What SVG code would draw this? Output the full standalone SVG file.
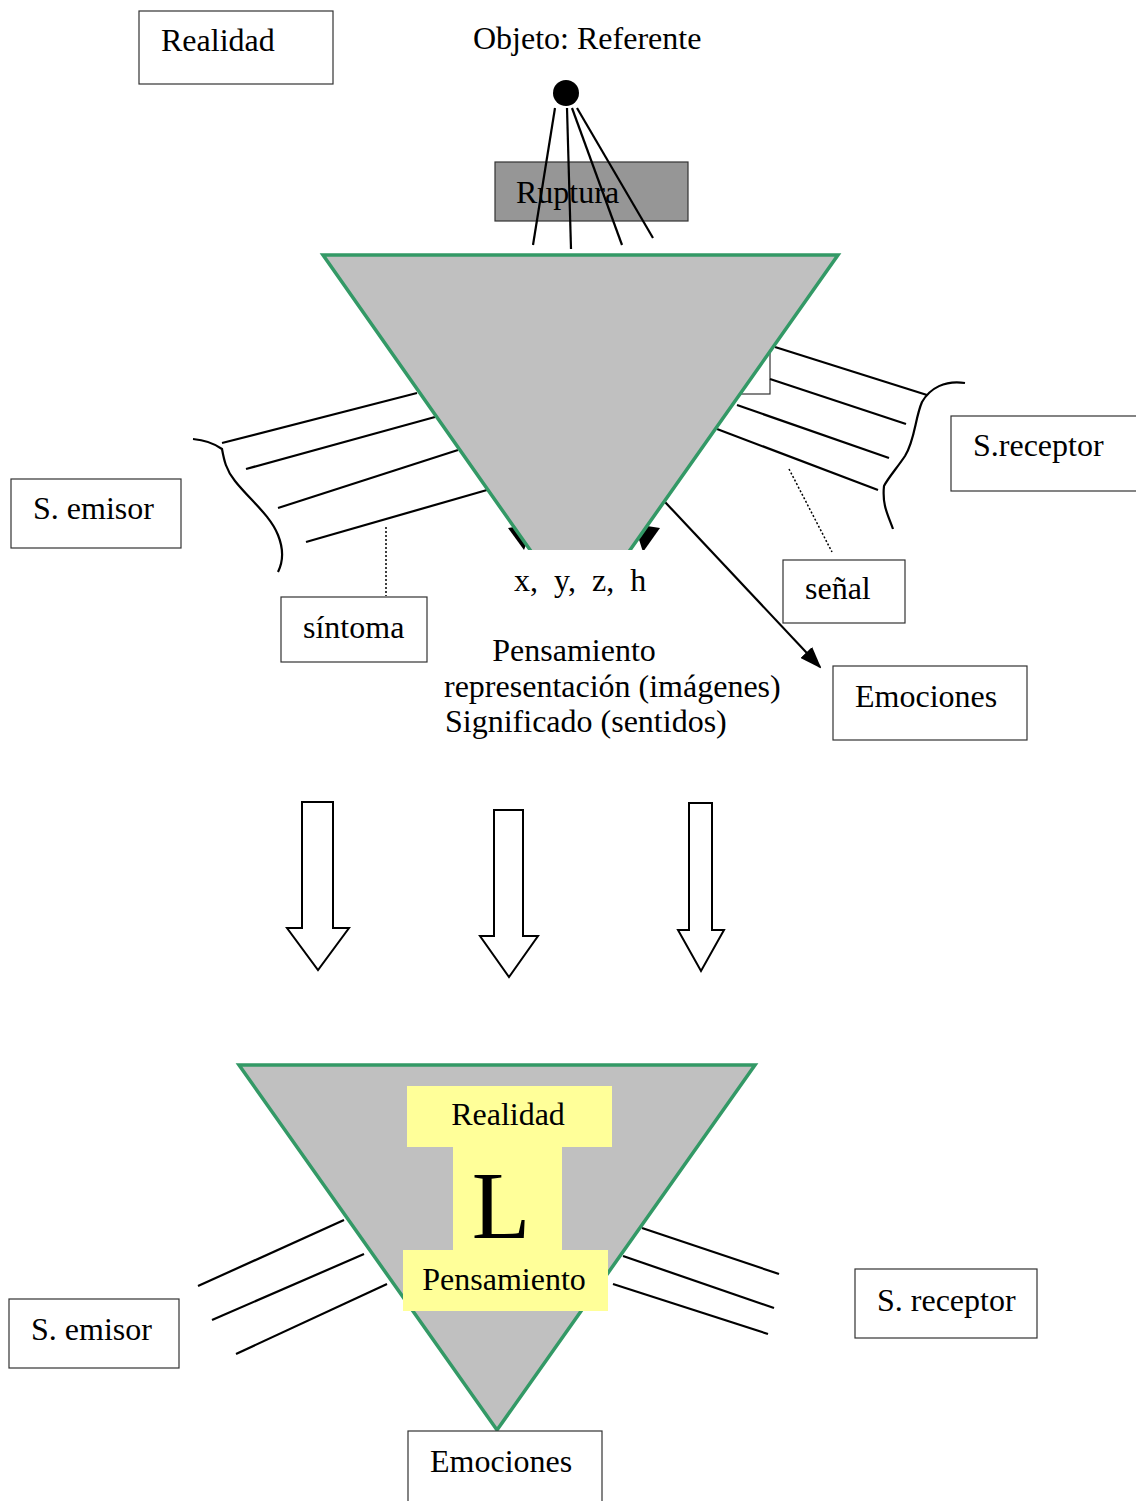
<svg xmlns="http://www.w3.org/2000/svg" width="1136" height="1501" viewBox="0 0 1136 1501">
<style>
text{font-family:"Liberation Serif","Times New Roman",serif;font-size:32px;fill:#000}
.box{fill:#fff;stroke:#333;stroke-width:1.2}
.ln{stroke:#000;stroke-width:2.2;fill:none}
.tri{fill:#c0c0c0;stroke:#339966;stroke-width:3.5}
.yel{fill:#ffff99}
.dot{stroke:#000;stroke-width:1.5;stroke-dasharray:2 2;fill:none}
.big{fill:#fff;stroke:#000;stroke-width:2}
</style>
<defs>
<marker id="ah" markerWidth="22" markerHeight="16" refX="20" refY="8" orient="auto" markerUnits="userSpaceOnUse">
<path d="M0,0 L22,8 L0,16 Z" fill="#000"/>
</marker>
</defs>
<rect width="1136" height="1501" fill="#fff"/>

<g id="realidad-top"><rect class="box" x="139" y="11" width="194" height="73"/><text x="161" y="51">Realidad</text></g>
<g id="objeto"><text x="473" y="49">Objeto: Referente</text><circle cx="566" cy="93" r="13" fill="#000"/></g>
<g id="ruptura"><rect x="495" y="162" width="193" height="59" fill="#969696" stroke="#333" stroke-width="1.2"/><text x="516" y="203">Ruptura</text></g>

<g id="connectors">
<line class="ln" x1="555" y1="108" x2="533" y2="245"/>
<line class="ln" x1="567" y1="108" x2="571" y2="249"/>
<line class="ln" x1="572" y1="108" x2="622" y2="245"/>
<line class="ln" x1="577" y1="108" x2="653" y2="238"/>
<rect class="box" x="700" y="345" width="70" height="49" stroke="#000"/>
<line class="ln" x1="775" y1="347" x2="927" y2="395"/>
<line class="ln" x1="770" y1="379" x2="906" y2="424"/>
<line class="ln" x1="737" y1="405" x2="889" y2="458"/>
<line class="ln" x1="717" y1="429" x2="878" y2="490"/>
<path class="ln" d="M965,383 C945,380 930,388 922,402 C915,418 915,440 905,456 C897,468 888,478 884,486 C882,505 888,515 893,529"/>
<line class="dot" x1="789" y1="469" x2="832" y2="552"/>
<line class="ln" x1="222" y1="443" x2="417" y2="393"/>
<line class="ln" x1="246" y1="469" x2="435" y2="417"/>
<line class="ln" x1="278" y1="508" x2="458" y2="450"/>
<line class="ln" x1="306" y1="542" x2="487" y2="490"/>
<path class="ln" d="M193,439 C205,440 215,444 222,449 C224,460 226,470 235,481 C250,500 270,515 278,535 C284,550 283,562 278,572"/>
<line class="dot" x1="386" y1="527" x2="386" y2="596"/>
<polygon points="508,528 534,524 524,550" fill="#000"/>
<polygon points="634,524 660,528 643,552" fill="#000"/>
<line class="ln" x1="650" y1="486" x2="820" y2="667" marker-end="url(#ah)"/>
</g>

<g id="triangulo-top">
<polygon class="tri" points="323,255 838,255 580,621"/>
<rect x="490" y="550" width="180" height="76" fill="#fff"/>
<text x="514" y="591" style="white-space:pre">x,  y,  z,  h</text>
</g>

<g id="s-receptor-top"><rect class="box" x="951" y="416" width="190" height="75"/><text x="973" y="456">S.receptor</text></g>
<g id="s-emisor-top"><rect class="box" x="11" y="479" width="170" height="69"/><text x="33" y="519">S. emisor</text></g>
<g id="sintoma"><rect class="box" x="281" y="597" width="146" height="65"/><text x="303" y="638">síntoma</text></g>
<g id="senal"><rect class="box" x="783" y="560" width="122" height="63"/><text x="805" y="599">señal</text></g>
<g id="emociones-top"><rect class="box" x="833" y="666" width="194" height="74"/><text x="855" y="707">Emociones</text></g>
<g id="pensamiento-top">
<text x="574" y="661" text-anchor="middle">Pensamiento</text>
<text x="444" y="697">representación (imágenes)</text>
<text x="445" y="732">Significado (sentidos)</text>
</g>

<g id="flechas">
<path class="big" d="M302,802 H333 V928 H349 L318,970 L287,928 H302 Z"/>
<path class="big" d="M494,810 H523 V936 H538 L509,977 L480,936 H494 Z"/>
<path class="big" d="M689,803 H712 V930 H724 L701,971 L678,930 H689 Z"/>
</g>

<g id="connectors-bottom">
<line class="ln" x1="198" y1="1286" x2="344" y2="1220"/>
<line class="ln" x1="212" y1="1320" x2="364" y2="1254"/>
<line class="ln" x1="236" y1="1354" x2="387" y2="1284"/>
<line class="ln" x1="642" y1="1228" x2="779" y2="1274"/>
<line class="ln" x1="623" y1="1256" x2="774" y2="1308"/>
<line class="ln" x1="613" y1="1284" x2="768" y2="1334"/>
</g>

<g id="triangulo-bottom">
<polygon class="tri" points="239,1065 755,1065 497,1430"/>
<rect class="yel" x="407" y="1086" width="205" height="61"/>
<rect class="yel" x="453" y="1146" width="109" height="105"/>
<rect class="yel" x="403" y="1250" width="205" height="61"/>
<text x="508" y="1125" text-anchor="middle">Realidad</text>
<text x="501" y="1238" text-anchor="middle" style="font-size:96px">L</text>
<text x="504" y="1290" text-anchor="middle">Pensamiento</text>
</g>

<g id="s-emisor-bottom"><rect class="box" x="9" y="1299" width="170" height="69"/><text x="31" y="1340">S. emisor</text></g>
<g id="s-receptor-bottom"><rect class="box" x="855" y="1269" width="182" height="69"/><text x="877" y="1311">S. receptor</text></g>
<g id="emociones-bottom"><rect class="box" x="408" y="1431" width="194" height="80"/><text x="430" y="1472">Emociones</text></g>
</svg>
